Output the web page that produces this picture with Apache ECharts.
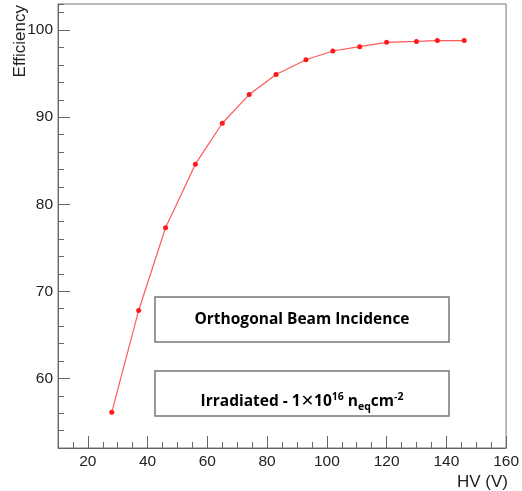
<!DOCTYPE html>
<html>
<head>
<meta charset="utf-8">
<script src="https://cdn.jsdelivr.net/npm/echarts@6/dist/echarts.min.js"></script>
<style>
html,body{margin:0;padding:0;background:#fff;}
#c{width:522px;height:491px;}
</style>
</head>
<body>
<div id="c"></div>
<script>
// Data
var hv = [28, 37, 46, 56, 65, 74, 83, 93, 102, 111, 120, 130, 137, 146];
var efficiency = [56.1, 67.8, 77.3, 84.6, 89.3, 92.6, 94.9, 96.6, 97.6, 98.1, 98.6, 98.7, 98.8, 98.8];
var xTickLabels = [20, 40, 60, 80, 100, 120, 140, 160];
var yTickLabels = [60, 70, 80, 90, 100];
var xTitle = 'HV (V)';
var yTitle = 'Efficiency';
var box1Text = 'Orthogonal Beam Incidence';

var chart = echarts.init(document.getElementById('c'));
var axisColor = '#666';
var labelFont = 'Liberation Sans';
var boxFont = 'Open Sans';

var points = hv.map(function (v, i) { return [v, efficiency[i]]; });

var option = {
  animation: false,
  backgroundColor: '#fff',
  grid: {
    left: 58, right: 14, top: 4, bottom: 43,
    show: true, borderColor: '#777', borderWidth: 1, backgroundColor: 'transparent'
  },
  xAxis: [
    {
      type: 'value', min: 10, max: 160, interval: 5, position: 'bottom',
      axisLine: { show: true, lineStyle: { color: axisColor, width: 1 } },
      axisTick: { show: true, inside: true, length: 6, lineStyle: { color: axisColor } },
      axisLabel: { show: false },
      splitLine: { show: false }
    },
    {
      type: 'value', min: 10, max: 160, interval: 5, position: 'bottom', offset: 0,
      axisLine: { show: false },
      axisTick: { show: true, inside: true, length: 12, customValues: xTickLabels, lineStyle: { color: axisColor } },
      axisLabel: { show: true, customValues: xTickLabels, color: '#222', fontFamily: labelFont, fontSize: 15.5, margin: 6 },
      splitLine: { show: false }
    }
  ],
  yAxis: [
    {
      type: 'value', min: 52, max: 103, interval: 2, position: 'left',
      axisLine: { show: true, lineStyle: { color: axisColor, width: 1 } },
      axisTick: { show: true, inside: true, length: 6, lineStyle: { color: axisColor } },
      axisLabel: { show: false },
      splitLine: { show: false }
    },
    {
      type: 'value', min: 52, max: 103, interval: 2, position: 'left', offset: 0,
      axisLine: { show: false },
      axisTick: { show: true, inside: true, length: 12, customValues: yTickLabels, lineStyle: { color: axisColor } },
      axisLabel: { show: true, customValues: yTickLabels, color: '#222', fontFamily: labelFont, fontSize: 15.5, margin: 5 },
      splitLine: { show: false }
    }
  ],
  series: [{
    type: 'line',
    xAxisIndex: 0, yAxisIndex: 0,
    data: points,
    symbol: 'circle',
    symbolSize: 5,
    itemStyle: { color: '#ff1a1a' },
    lineStyle: { color: '#ff5a5a', width: 1.2 },
    z: 3
  }],
  graphic: [
    {
      type: 'text', x: 20, y: 5, rotation: Math.PI / 2,
      style: { text: yTitle, align: 'right', verticalAlign: 'middle', fill: '#222', font: '17px "Liberation Sans"' }
    },
    {
      type: 'text', x: 508, y: 482,
      style: { text: xTitle, align: 'right', verticalAlign: 'middle', fill: '#222', font: '17px "Liberation Sans"' }
    },
    {
      type: 'rect', shape: { x: 155, y: 297, width: 294, height: 45 },
      style: { fill: '#fff', stroke: '#777', lineWidth: 1.5 }, z: 10
    },
    {
      type: 'text', x: 302, y: 320, z: 11,
      style: { text: box1Text, align: 'center', verticalAlign: 'middle', fill: '#000', font: 'bold 15.5px "Open Sans"' }
    },
    {
      type: 'rect', shape: { x: 155, y: 371, width: 294, height: 45 },
      style: { fill: '#fff', stroke: '#777', lineWidth: 1.5 }, z: 10
    },
    {
      type: 'text', x: 302, y: 402, z: 11,
      style: {
        text: '{a|Irradiated - 1}{x|\u2715}{a|10}{sup|16}{a| n}{sub|eq}{a|cm}{sup|-2}',
        align: 'center', verticalAlign: 'middle',
        rich: {
          a: { fontFamily: boxFont, fontWeight: 'bold', fontSize: 15.5, fill: '#000', lineHeight: 22, verticalAlign: 'middle' },
          x: { fontFamily: 'DejaVu Sans', fontSize: 16, fontWeight: 'normal', fill: '#000', lineHeight: 22, verticalAlign: 'middle' },
          sup: { fontFamily: boxFont, fontWeight: 'bold', fontSize: 10.5, fill: '#000', lineHeight: 22, verticalAlign: 'top', padding: [1, 0, 0, 0] },
          sub: { fontFamily: boxFont, fontWeight: 'bold', fontSize: 10.5, fill: '#000', lineHeight: 22, verticalAlign: 'bottom' }
        }
      }
    }
  ]
};
chart.setOption(option);
</script>
</body>
</html>
